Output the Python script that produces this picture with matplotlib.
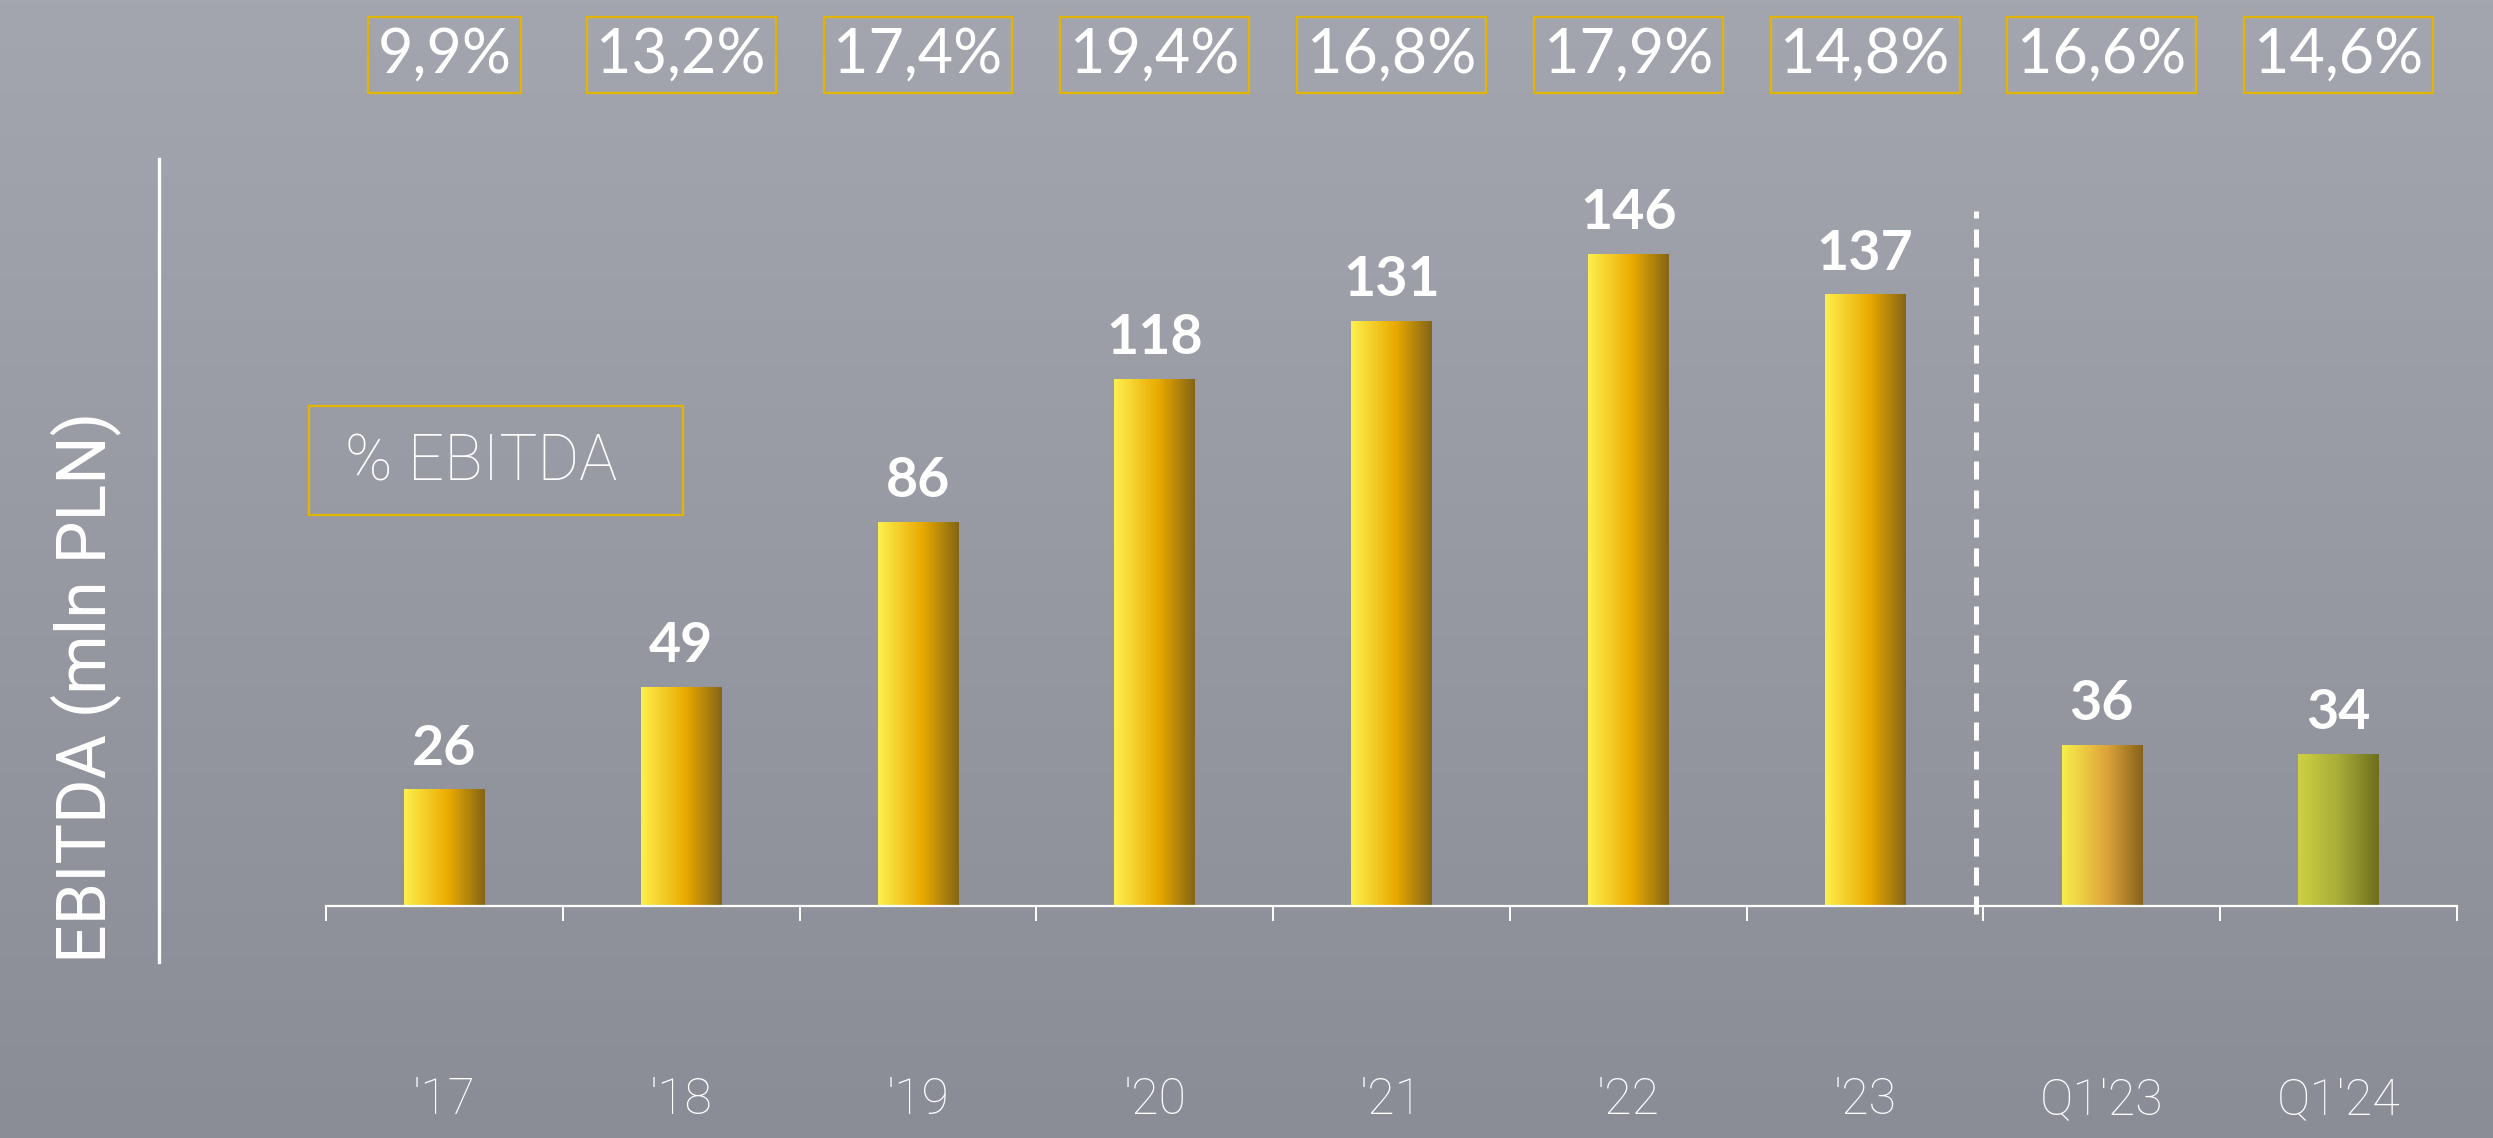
import numpy as np
import matplotlib.pyplot as plt
from matplotlib.colors import LinearSegmentedColormap
from matplotlib.lines import Line2D
from matplotlib.patches import Rectangle
from matplotlib.transforms import blended_transform_factory

plt.rcParams['font.family'] = ['Lato', 'DejaVu Sans']
LIGHT = ['Roboto', 'DejaVu Sans']

# EBITDA in mln PLN, yearly then Q1 figures
periods = ["'17", "'18", "'19", "'20", "'21", "'22", "'23", "Q1'23", "Q1'24"]
ebitda = [26, 49, 86, 118, 131, 146, 137, 36, 34]
margin = ['9,9%', '13,2%', '17,4%', '19,4%', '16,8%', '17,9%', '14,8%', '16,6%', '14,6%']

# gradient fills for the bars (left -> right)
gold = LinearSegmentedColormap.from_list('gold', [(0, '#fdf04e'), (0.55, '#eaaa00'), (1, '#846516')])
amber = LinearSegmentedColormap.from_list('amber', [(0, '#f9ee4c'), (0.55, '#dea43a'), (1, '#87621a')])
olive = LinearSegmentedColormap.from_list('olive', [(0, '#cfd043'), (0.5, '#a7ad38'), (1, '#6e6e20')])
fills = [gold] * 7 + [amber, olive]

W, H = 2493, 1138
fig = plt.figure(figsize=(W / 100, H / 100), dpi=100)

# grey backdrop, a bit lighter at the top
bg = fig.add_axes([0, 0, 1, 1])
grad = np.linspace(0, 1, 256).reshape(-1, 1)
bg_cmap = LinearSegmentedColormap.from_list('bg', ['#a3a6ae', '#8a8d96'])
bg.imshow(grad, aspect='auto', cmap=bg_cmap, extent=[0, 1, 0, 1], zorder=0)
bg.set_axis_off()

ax = fig.add_axes([326 / W, 232 / H, 2131 / W, 714 / H])
ax.set_facecolor('none')
x = np.arange(len(periods))
bars = ax.bar(x, ebitda, width=0.34, color='none', zorder=2)
ax.set_xlim(-0.5, len(periods) - 0.5)
ax.set_ylim(0, 160)

grad_h = np.linspace(0, 1, 256).reshape(1, -1)
for b, cm, v in zip(bars, fills, ebitda):
    x0, w, h = b.get_x(), b.get_width(), b.get_height()
    ax.imshow(grad_h, aspect='auto', cmap=cm, extent=[x0, x0 + w, 0, h], zorder=2)
    ax.annotate(str(v), (x0 + w / 2, h), xytext=(0, 18), textcoords='offset points',
                ha='center', va='baseline', color='white', fontsize=40, fontweight='bold')

for s in ['top', 'right', 'left']:
    ax.spines[s].set_visible(False)
ax.spines['bottom'].set_color('white')
ax.spines['bottom'].set_linewidth(1.6)
ax.set_yticks([])
ax.set_xticks(np.arange(-0.5, len(periods)), labels=[''] * (len(periods) + 1))
ax.tick_params(axis='x', direction='out', length=11, width=1.4, color='white')

# dashed separator between full years and quarters
ax.plot([6.47, 6.47], [-1.8, 155.8], color='white', lw=3.6, dashes=(3.6, 2.2), clip_on=False, zorder=3)

# category labels below the axis
tr = blended_transform_factory(ax.transData, fig.transFigure)
for xi, lab in zip(x, periods):
    ax.text(xi, 1 - 1100 / H, lab, transform=tr, ha='center', va='center',
            color='white', fontsize=36, family=LIGHT, fontweight='light')

# EBITDA margin boxes along the top
for xi, m in zip(x, margin):
    ax.text(xi, 1 - 55 / H, m, transform=tr, ha='center', va='center', color='white',
            fontsize=44, bbox=dict(boxstyle='square,pad=0.16', fc='none', ec='#e3b400', lw=1.6))

# legend box
fig.patches.append(Rectangle((309 / W, 1 - 515 / H), 374 / W, 109 / H, transform=fig.transFigure,
                             fill=False, ec='#e3b400', lw=1.6))
fig.text(345 / W, 1 - 462 / H, '% EBITDA', ha='left', va='center', color='white',
         fontsize=46, family=LIGHT, fontweight='light')

# y axis title with its own vertical rule
fig.lines.append(Line2D([159 / W, 159 / W], [1 - 159 / H, 1 - 962 / H], transform=fig.transFigure,
                        color='white', lw=2.4))
fig.text(86 / W, 1 - 687 / H, 'EBITDA (mln PLN)', rotation=90, ha='center', va='center',
         color='white', fontsize=49, family=LIGHT)

fig.savefig('out.png', dpi=100)
